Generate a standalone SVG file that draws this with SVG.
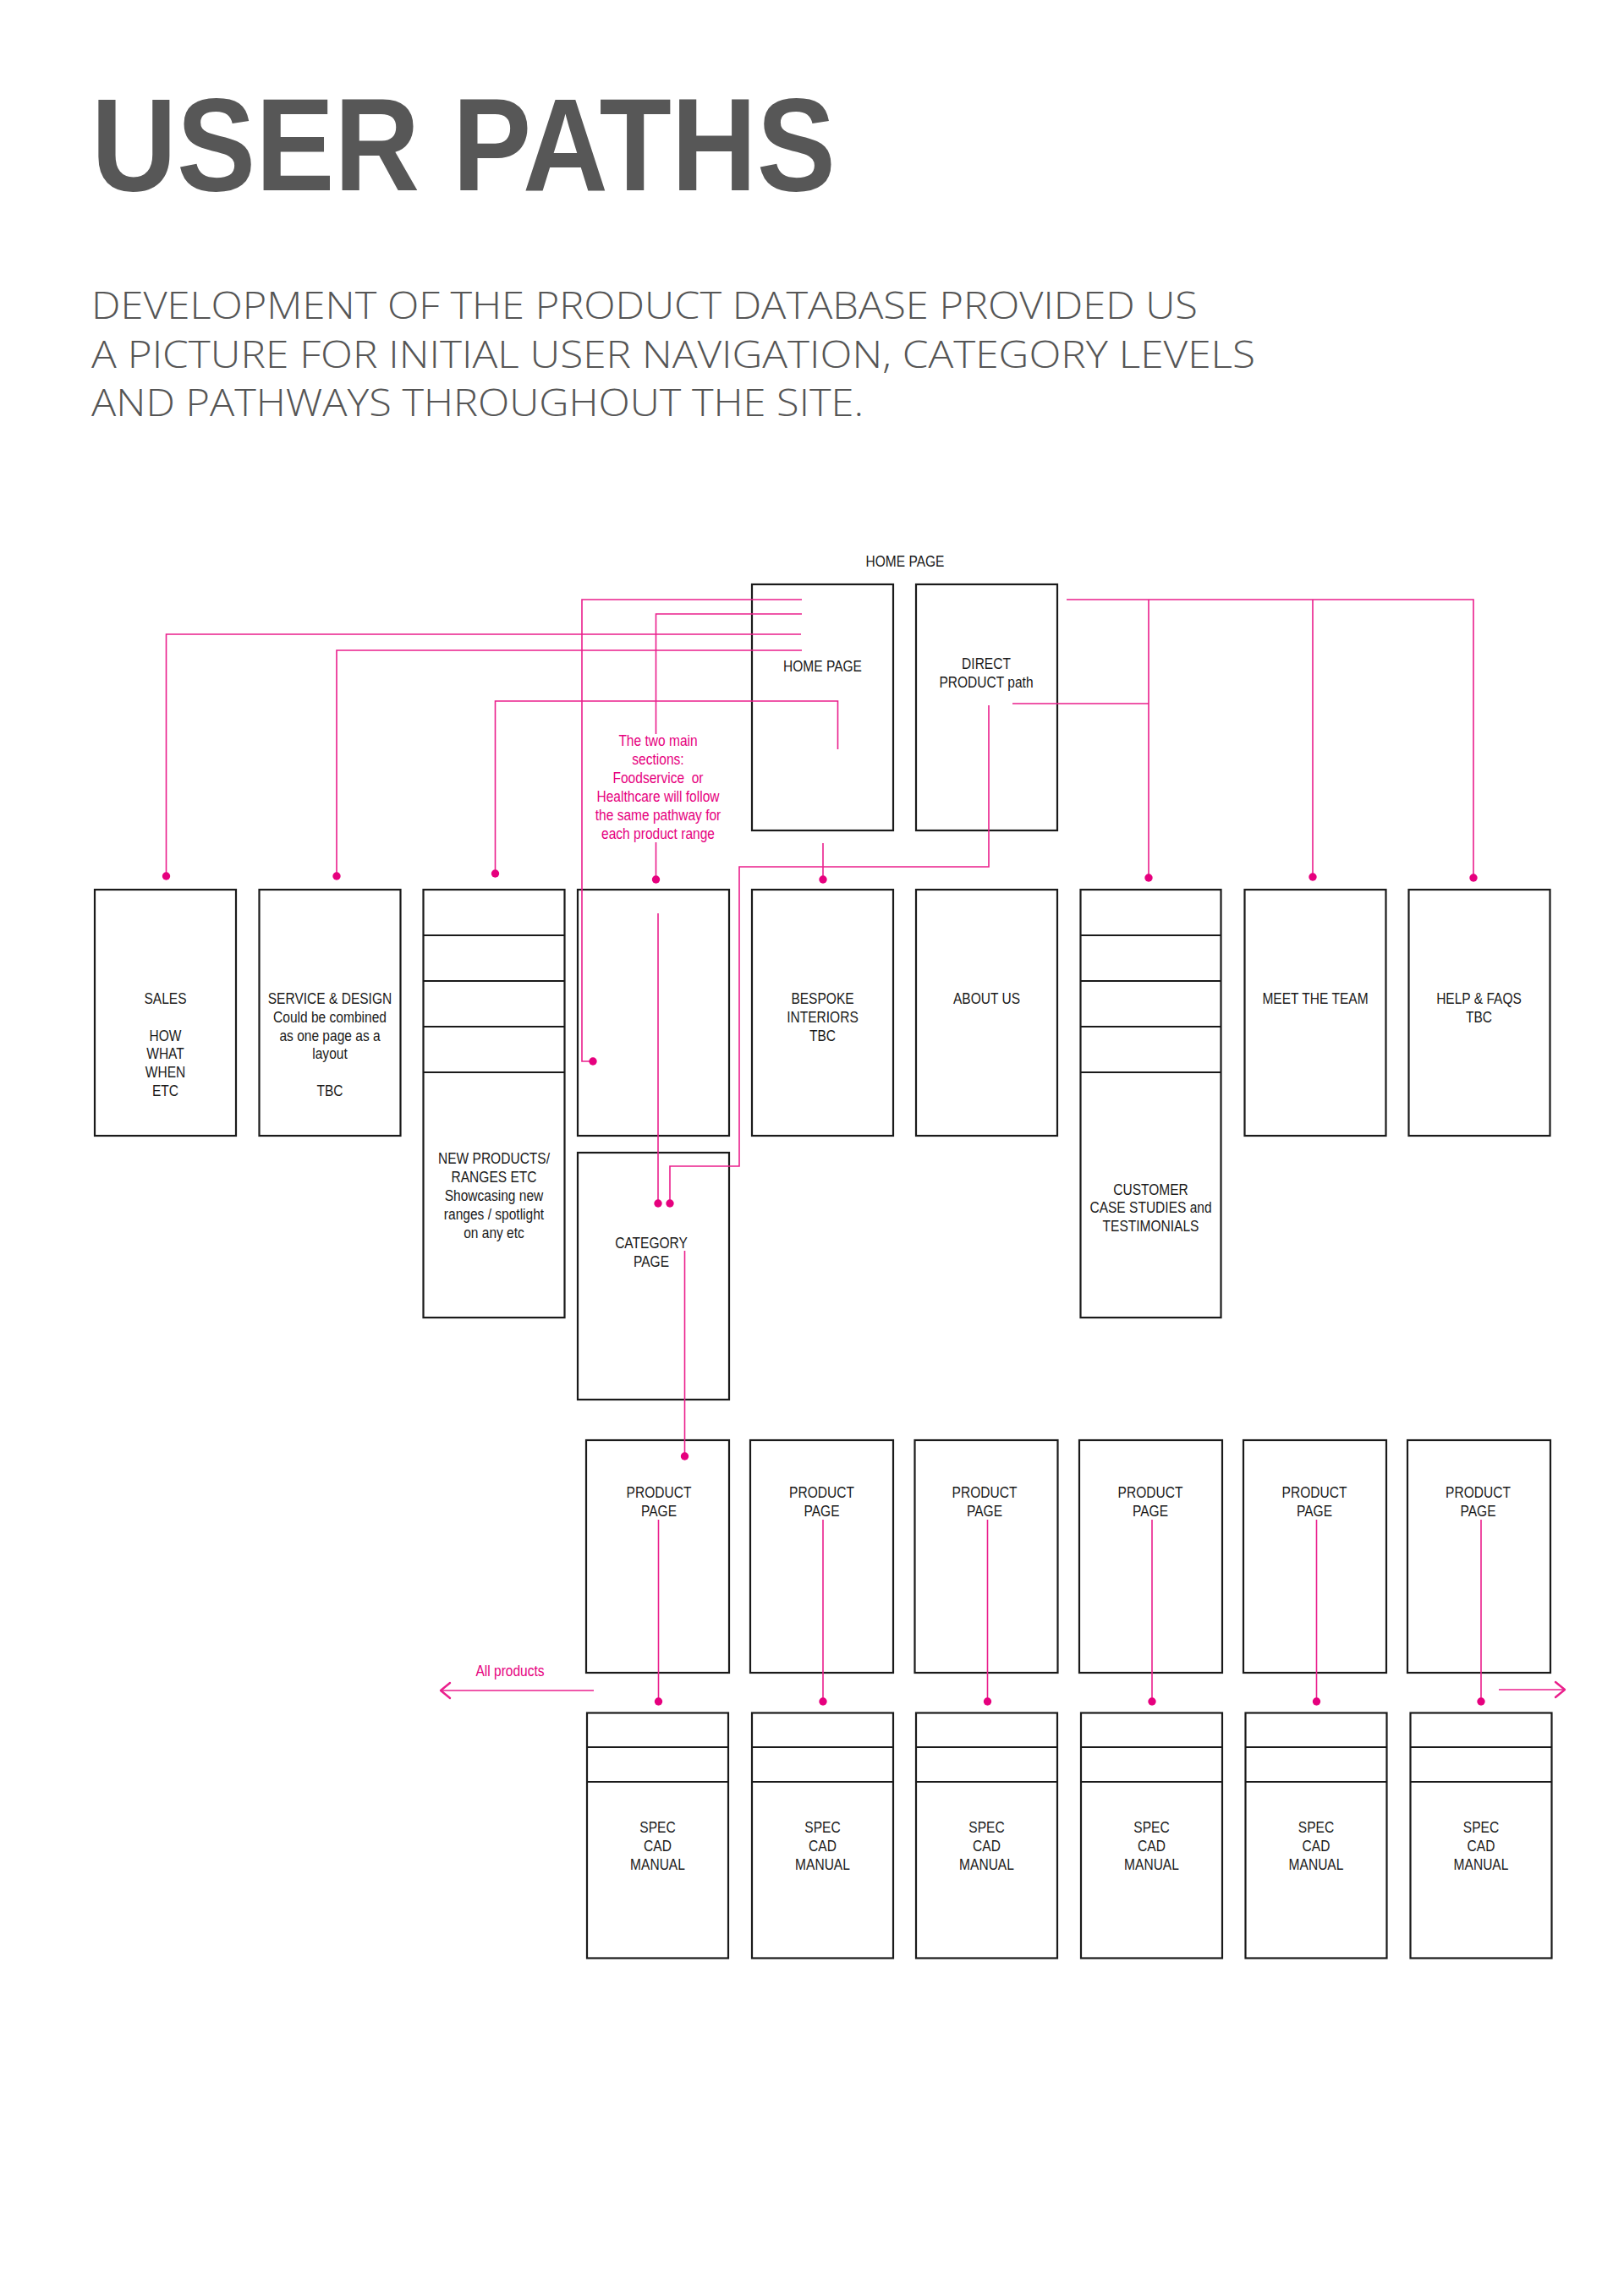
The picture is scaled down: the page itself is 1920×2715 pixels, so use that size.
<svg xmlns="http://www.w3.org/2000/svg" width="1920" height="2715" viewBox="0 0 1920 2715">
<style>
.bg{fill:#ffffff}
.box{fill:none;stroke:#1a1a1a;stroke-width:2.2}
.t{font-family:"Liberation Sans",Arial,sans-serif;font-size:18.5px;fill:#1a1a1a;text-anchor:middle}
.note{font-family:"Liberation Sans",Arial,sans-serif;font-size:18.5px;fill:#e6007e;text-anchor:middle;white-space:pre}
.title{font-family:"Liberation Sans",Arial,sans-serif;font-weight:bold;font-size:155px;fill:#575757}
.sub{font-family:"Open Sans","Lato","Liberation Sans",sans-serif;font-weight:300;font-size:44px;fill:#555555}
.c{fill:none;stroke:#ea1f8c;stroke-width:1.6}
.arr{fill:none;stroke:#ea1f8c;stroke-width:2.4;stroke-linecap:round;stroke-linejoin:round}
.dot{fill:#e6007e}
</style>
<defs>
<circle id="d" r="4.7" class="dot"/>
</defs>
<rect class="bg" x="0" y="0" width="1920" height="2715"/>

<g id="heading">
<text class="title" x="108" y="225" textLength="880" lengthAdjust="spacingAndGlyphs">USER PATHS</text>
<text class="sub" x="108" y="377" textLength="1308" lengthAdjust="spacingAndGlyphs">DEVELOPMENT OF THE PRODUCT DATABASE PROVIDED US</text>
<text class="sub" x="108" y="434.5" textLength="1376" lengthAdjust="spacingAndGlyphs">A PICTURE FOR INITIAL USER NAVIGATION, CATEGORY LEVELS</text>
<text class="sub" x="108" y="492" textLength="913" lengthAdjust="spacingAndGlyphs">AND PATHWAYS THROUGHOUT THE SITE.</text>
</g>

<g id="home-label"><g transform="translate(1070,0) scale(0.84,1)"><text class="t" y="670">HOME PAGE</text></g></g>

<g id="home-page">
<rect class="box" x="889" y="691" width="167" height="291"/>
<g transform="translate(972.5,0) scale(0.84,1)"><text class="t" y="794">HOME PAGE</text></g>
</g>
<g id="direct-product">
<rect class="box" x="1083" y="691" width="167" height="291"/>
<g transform="translate(1166,0) scale(0.84,1)">
<text class="t" y="791">DIRECT</text>
<text class="t" y="813">PRODUCT path</text>
</g>
</g>

<g id="sales">
<rect class="box" x="112" y="1052" width="167" height="291"/>
<g transform="translate(195.5,0) scale(0.84,1)">
<text class="t" y="1187">SALES</text>
<text class="t" y="1231">HOW</text>
<text class="t" y="1252.5">WHAT</text>
<text class="t" y="1274">WHEN</text>
<text class="t" y="1296">ETC</text>
</g>
</g>
<g id="service-design">
<rect class="box" x="306.5" y="1052" width="167" height="291"/>
<g transform="translate(390,0) scale(0.84,1)">
<text class="t" y="1187">SERVICE &amp; DESIGN</text>
<text class="t" y="1209">Could be combined</text>
<text class="t" y="1231">as one page as a</text>
<text class="t" y="1252.5">layout</text>
<text class="t" y="1296">TBC</text>
</g>
</g>
<g id="new-products">
<rect class="box" x="500.5" y="1052" width="167" height="506"/>
<line class="box" x1="500.5" y1="1106" x2="667.5" y2="1106"/>
<line class="box" x1="500.5" y1="1160" x2="667.5" y2="1160"/>
<line class="box" x1="500.5" y1="1214" x2="667.5" y2="1214"/>
<line class="box" x1="500.5" y1="1268" x2="667.5" y2="1268"/>
<g transform="translate(584,0) scale(0.84,1)">
<text class="t" y="1376">NEW PRODUCTS/</text>
<text class="t" y="1398">RANGES ETC</text>
<text class="t" y="1420">Showcasing new</text>
<text class="t" y="1442">ranges / spotlight</text>
<text class="t" y="1464">on any etc</text>
</g>
</g>
<g id="sections">
<rect class="box" x="683" y="1052" width="179" height="291"/>
</g>
<g id="sections-note">
<g transform="translate(778,0) scale(0.84,1)">
<text class="note" y="882">The two main</text>
<text class="note" y="904">sections:</text>
<text class="note" y="926">Foodservice  or</text>
<text class="note" y="948">Healthcare will follow</text>
<text class="note" y="970">the same pathway for</text>
<text class="note" y="992">each product range</text>
</g>
</g>
<g id="bespoke">
<rect class="box" x="889" y="1052" width="167" height="291"/>
<g transform="translate(972.5,0) scale(0.84,1)">
<text class="t" y="1187">BESPOKE</text>
<text class="t" y="1209">INTERIORS</text>
<text class="t" y="1231">TBC</text>
</g>
</g>
<g id="about-us">
<rect class="box" x="1083" y="1052" width="167" height="291"/>
<g transform="translate(1166.5,0) scale(0.84,1)"><text class="t" y="1187">ABOUT US</text></g>
</g>
<g id="customer">
<rect class="box" x="1277.5" y="1052" width="166" height="506"/>
<line class="box" x1="1277.5" y1="1106" x2="1443.5" y2="1106"/>
<line class="box" x1="1277.5" y1="1160" x2="1443.5" y2="1160"/>
<line class="box" x1="1277.5" y1="1214" x2="1443.5" y2="1214"/>
<line class="box" x1="1277.5" y1="1268" x2="1443.5" y2="1268"/>
<g transform="translate(1360.5,0) scale(0.84,1)">
<text class="t" y="1413">CUSTOMER</text>
<text class="t" y="1434.5">CASE STUDIES and</text>
<text class="t" y="1456">TESTIMONIALS</text>
</g>
</g>
<g id="meet-the-team">
<rect class="box" x="1471.5" y="1052" width="167" height="291"/>
<g transform="translate(1555,0) scale(0.84,1)"><text class="t" y="1187">MEET THE TEAM</text></g>
</g>
<g id="help-faqs">
<rect class="box" x="1665.5" y="1052" width="167" height="291"/>
<g transform="translate(1748.5,0) scale(0.84,1)">
<text class="t" y="1187">HELP &amp; FAQS</text>
<text class="t" y="1209">TBC</text>
</g>
</g>
<g id="category">
<rect class="box" x="683" y="1363" width="179" height="292"/>
<g transform="translate(770,0) scale(0.84,1)">
<text class="t" y="1476">CATEGORY</text>
<text class="t" y="1498">PAGE</text>
</g>
</g>

<g id="product-1"><rect class="box" x="693" y="1703" width="169" height="275"/><g transform="translate(779,0) scale(0.84,1)"><text class="t" y="1771">PRODUCT</text><text class="t" y="1793">PAGE</text></g></g>
<g id="product-2"><rect class="box" x="887" y="1703" width="169" height="275"/><g transform="translate(971.5,0) scale(0.84,1)"><text class="t" y="1771">PRODUCT</text><text class="t" y="1793">PAGE</text></g></g>
<g id="product-3"><rect class="box" x="1081.5" y="1703" width="169" height="275"/><g transform="translate(1164,0) scale(0.84,1)"><text class="t" y="1771">PRODUCT</text><text class="t" y="1793">PAGE</text></g></g>
<g id="product-4"><rect class="box" x="1276" y="1703" width="169" height="275"/><g transform="translate(1360,0) scale(0.84,1)"><text class="t" y="1771">PRODUCT</text><text class="t" y="1793">PAGE</text></g></g>
<g id="product-5"><rect class="box" x="1470" y="1703" width="169" height="275"/><g transform="translate(1554,0) scale(0.84,1)"><text class="t" y="1771">PRODUCT</text><text class="t" y="1793">PAGE</text></g></g>
<g id="product-6"><rect class="box" x="1664" y="1703" width="169" height="275"/><g transform="translate(1747.5,0) scale(0.84,1)"><text class="t" y="1771">PRODUCT</text><text class="t" y="1793">PAGE</text></g></g>

<g id="spec-1"><rect class="box" x="694" y="2025.5" width="167" height="290"/><line class="box" x1="694" y1="2066" x2="861" y2="2066"/><line class="box" x1="694" y1="2107" x2="861" y2="2107"/><g transform="translate(777.5,0) scale(0.84,1)"><text class="t" y="2167">SPEC</text><text class="t" y="2189">CAD</text><text class="t" y="2211">MANUAL</text></g></g>
<g id="spec-2"><rect class="box" x="889" y="2025.5" width="167" height="290"/><line class="box" x1="889" y1="2066" x2="1056" y2="2066"/><line class="box" x1="889" y1="2107" x2="1056" y2="2107"/><g transform="translate(972.5,0) scale(0.84,1)"><text class="t" y="2167">SPEC</text><text class="t" y="2189">CAD</text><text class="t" y="2211">MANUAL</text></g></g>
<g id="spec-3"><rect class="box" x="1083" y="2025.5" width="167" height="290"/><line class="box" x1="1083" y1="2066" x2="1250" y2="2066"/><line class="box" x1="1083" y1="2107" x2="1250" y2="2107"/><g transform="translate(1166.5,0) scale(0.84,1)"><text class="t" y="2167">SPEC</text><text class="t" y="2189">CAD</text><text class="t" y="2211">MANUAL</text></g></g>
<g id="spec-4"><rect class="box" x="1278" y="2025.5" width="167" height="290"/><line class="box" x1="1278" y1="2066" x2="1445" y2="2066"/><line class="box" x1="1278" y1="2107" x2="1445" y2="2107"/><g transform="translate(1361.5,0) scale(0.84,1)"><text class="t" y="2167">SPEC</text><text class="t" y="2189">CAD</text><text class="t" y="2211">MANUAL</text></g></g>
<g id="spec-5"><rect class="box" x="1472.5" y="2025.5" width="167" height="290"/><line class="box" x1="1472.5" y1="2066" x2="1639.5" y2="2066"/><line class="box" x1="1472.5" y1="2107" x2="1639.5" y2="2107"/><g transform="translate(1556,0) scale(0.84,1)"><text class="t" y="2167">SPEC</text><text class="t" y="2189">CAD</text><text class="t" y="2211">MANUAL</text></g></g>
<g id="spec-6"><rect class="box" x="1667.5" y="2025.5" width="167" height="290"/><line class="box" x1="1667.5" y1="2066" x2="1834.5" y2="2066"/><line class="box" x1="1667.5" y1="2107" x2="1834.5" y2="2107"/><g transform="translate(1751,0) scale(0.84,1)"><text class="t" y="2167">SPEC</text><text class="t" y="2189">CAD</text><text class="t" y="2211">MANUAL</text></g></g>

<g id="all-products-label"><g transform="translate(603,0) scale(0.84,1)"><text class="note" y="1982">All products</text></g></g>

<g id="connectors">
<path class="c" d="M948,709 H688 V1255 H700"/>
<path class="c" d="M948,726 H775.5 V868 M775.5,996 V1040"/>
<path class="c" d="M947,750 H196.5 V1036"/>
<path class="c" d="M948,769 H398 V1036"/>
<path class="c" d="M990.5,886 V829 H585.5 V1033"/>
<path class="c" d="M973,997 V1040"/>
<path class="c" d="M1169,834 V1025 H874 V1379 H792 V1423"/>
<path class="c" d="M778,1080 V1423"/>
<path class="c" d="M809.5,1479 V1722"/>
<path class="c" d="M1261,709 H1742 V1038 M1358,709 V1038 M1552,709 V1037 M1197,832 H1358"/>
<path class="c" d="M778.5,1797 V2012 M973,1797 V2012 M1167.5,1797 V2012 M1362,1797 V2012 M1556.5,1797 V2012 M1751,1797 V2012"/>
<path class="c" d="M702,1999 H522"/>
<path class="arr" d="M532,1990 L521,1999 L532,2008"/>
<path class="c" d="M1772,1998 H1849"/>
<path class="arr" d="M1839,1989 L1850,1998 L1839,2007"/>
<use href="#d" x="701" y="1255"/>
<use href="#d" x="775.5" y="1040"/>
<use href="#d" x="196.5" y="1036"/>
<use href="#d" x="398" y="1036"/>
<use href="#d" x="585.5" y="1033"/>
<use href="#d" x="973" y="1040"/>
<use href="#d" x="792" y="1423"/>
<use href="#d" x="778" y="1423"/>
<use href="#d" x="809.5" y="1722"/>
<use href="#d" x="1358" y="1038"/>
<use href="#d" x="1552" y="1037"/>
<use href="#d" x="1742" y="1038"/>
<use href="#d" x="778.5" y="2012"/>
<use href="#d" x="973" y="2012"/>
<use href="#d" x="1167.5" y="2012"/>
<use href="#d" x="1362" y="2012"/>
<use href="#d" x="1556.5" y="2012"/>
<use href="#d" x="1751" y="2012"/>
</g>
</svg>
